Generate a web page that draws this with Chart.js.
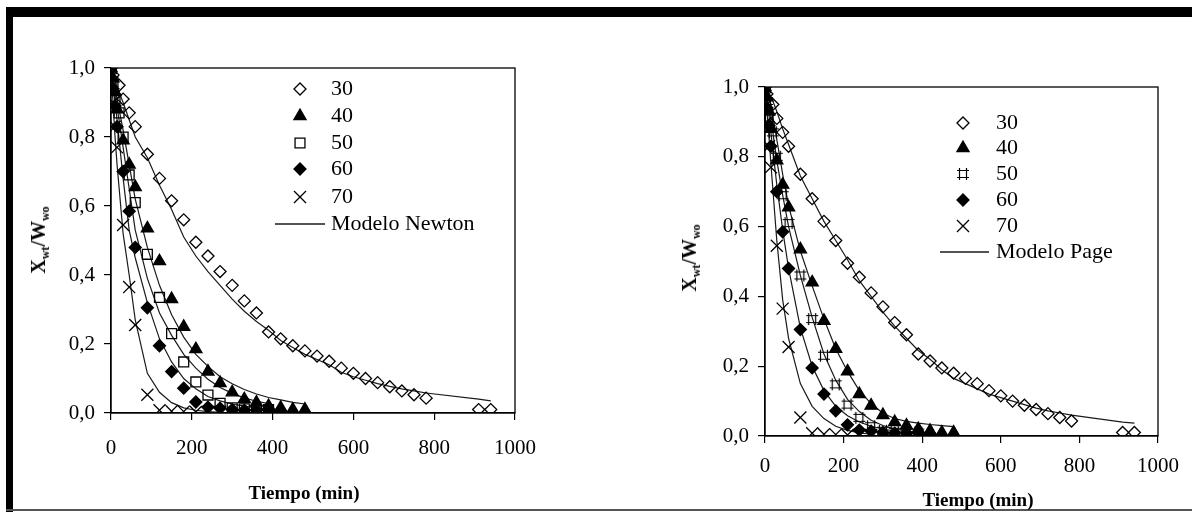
<!DOCTYPE html>
<html>
<head>
<meta charset="utf-8">
<script src="https://cdn.jsdelivr.net/npm/chart.js@4/dist/chart.umd.min.js"></script>
<style>
html, body { margin: 0; padding: 0; background: #fff; }
body { width: 1192px; height: 512px; position: relative; overflow: hidden; font-family: 'Liberation Serif', 'Times New Roman', serif; }
.bar { position: absolute; background: #000; }
canvas { position: absolute; }
.ttl { position: absolute; font-weight: bold; color: #000; white-space: nowrap; }
.ytl { transform: translate(-50%, -50%) rotate(-90deg); font-size: 20px; }
.xtl { transform: translate(-50%, -50%); font-size: 19px; }
.ytl sub { font-size: 12px; vertical-align: -4px; }
</style>
</head>
<body>
<div class="bar" style="left:6px;right:0;top:7px;height:10px"></div>
<div class="bar" style="left:6px;width:7px;top:7px;bottom:0"></div>
<div class="bar" style="left:6px;right:0;top:509px;height:2px;background:#555"></div>

<canvas id="newton" width="540" height="470" style="left:20px;top:40px"></canvas>
<canvas id="page" width="532" height="472" style="left:660px;top:40px"></canvas>

<div class="ttl ytl" style="left:40px;top:240px">X<sub>wt</sub>/W<sub>wo</sub></div>
<div class="ttl xtl" style="left:304px;top:493px">Tiempo (min)</div>
<div class="ttl ytl" style="left:691px;top:258px">X<sub>wt</sub>/W<sub>wo</sub></div>
<div class="ttl xtl" style="left:978px;top:500px">Tiempo (min)</div>

<script>
'use strict';

// tiempos de muestreo (min)
const t30 = [0, 5, 20, 30, 45, 60, 90, 120, 150, 180, 210, 240, 270, 300, 330, 360, 390, 420, 450, 480, 510, 540, 570, 600, 630, 660, 690, 720, 750, 780, 910, 940];
const t40 = [0, 5, 10, 15, 30, 45, 60, 90, 120, 150, 180, 210, 240, 270, 300, 330, 360, 390, 420, 450, 480];
const t50 = [0, 5, 10, 20, 30, 45, 60, 90, 120, 150, 180, 210, 240, 270, 300, 330, 360, 390];
const t60 = [0, 5, 10, 15, 30, 45, 60, 90, 120, 150, 180, 210, 240, 270, 300, 330, 360, 390, 420];
const t70 = [0, 5, 10, 15, 30, 45, 60, 90, 120, 150, 180, 210, 240, 270];

// datos experimentales Xwt/Wwo
const y30 = [1.0, 0.98, 0.95, 0.91, 0.87, 0.83, 0.75, 0.68, 0.615, 0.56, 0.495, 0.455, 0.41, 0.37, 0.325, 0.29, 0.235, 0.215, 0.195, 0.18, 0.165, 0.15, 0.13, 0.115, 0.1, 0.088, 0.076, 0.064, 0.053, 0.043, 0.01, 0.01];
const y40 = [1.0, 0.97, 0.93, 0.88, 0.79, 0.72, 0.655, 0.535, 0.44, 0.33, 0.25, 0.185, 0.12, 0.087, 0.06, 0.04, 0.03, 0.02, 0.015, 0.01, 0.01];
const y50 = [1.0, 0.96, 0.91, 0.87, 0.80, 0.69, 0.61, 0.46, 0.335, 0.23, 0.148, 0.09, 0.052, 0.028, 0.015, 0.012, 0.01, 0.01];
const y60 = [1.0, 0.94, 0.89, 0.83, 0.70, 0.585, 0.48, 0.305, 0.195, 0.12, 0.072, 0.032, 0.017, 0.014, 0.01, 0.008, 0.008, 0.008, 0.006];
const y70 = [1.0, 0.9, 0.83, 0.77, 0.545, 0.365, 0.255, 0.053, 0.008, 0.005, 0.004, 0.003, 0.003, 0.003];

// modelo Newton
const nw30 = [1.0, 0.98, 0.93, 0.90, 0.85, 0.80, 0.74, 0.66, 0.59, 0.51, 0.455, 0.41, 0.37, 0.33, 0.295, 0.265, 0.24, 0.21, 0.19, 0.17, 0.155, 0.14, 0.118, 0.105, 0.095, 0.085, 0.077, 0.07, 0.064, 0.058, 0.04, 0.035];
const nw40 = [1.0, 0.97, 0.94, 0.91, 0.82, 0.72, 0.62, 0.48, 0.37, 0.285, 0.22, 0.17, 0.135, 0.105, 0.085, 0.068, 0.055, 0.045, 0.038, 0.031, 0.026];
const nw50 = [1.0, 0.96, 0.92, 0.85, 0.77, 0.65, 0.53, 0.39, 0.29, 0.225, 0.17, 0.13, 0.098, 0.074, 0.057, 0.044, 0.034, 0.027];
const nw60 = [1.0, 0.95, 0.9, 0.85, 0.68, 0.53, 0.45, 0.32, 0.215, 0.148, 0.10, 0.07, 0.048, 0.035, 0.026, 0.02, 0.015, 0.012, 0.01];
const nw70 = [1.0, 0.9, 0.8, 0.72, 0.52, 0.40, 0.27, 0.115, 0.06, 0.03, 0.015, 0.008, 0.004, 0.002];

// modelo Page
const pg30 = [1.0, 0.995, 0.96, 0.93, 0.88, 0.835, 0.745, 0.68, 0.615, 0.56, 0.505, 0.445, 0.4, 0.355, 0.315, 0.28, 0.245, 0.22, 0.19, 0.165, 0.15, 0.135, 0.12, 0.11, 0.1, 0.09, 0.08, 0.072, 0.066, 0.06, 0.04, 0.037];
const pg40 = [1.0, 0.985, 0.97, 0.95, 0.85, 0.75, 0.66, 0.53, 0.43, 0.335, 0.25, 0.185, 0.13, 0.093, 0.065, 0.05, 0.042, 0.037, 0.033, 0.03, 0.027];
const pg50 = [1.0, 0.97, 0.94, 0.87, 0.79, 0.69, 0.6, 0.46, 0.34, 0.235, 0.16, 0.105, 0.07, 0.045, 0.03, 0.02, 0.014, 0.01];
const pg60 = [1.0, 0.96, 0.92, 0.87, 0.72, 0.59, 0.48, 0.31, 0.2, 0.13, 0.085, 0.058, 0.04, 0.028, 0.02, 0.014, 0.01, 0.007, 0.005];
const pg70 = [1.0, 0.93, 0.86, 0.78, 0.56, 0.39, 0.28, 0.15, 0.085, 0.05, 0.028, 0.016, 0.009, 0.005];

const labels = ['30', '40', '50', '60', '70'];
const xTicks = [0, 200, 400, 600, 800, 1000];
const yTicks = [0, 0.2, 0.4, 0.6, 0.8, 1.0];

const FONT = "'Liberation Serif', 'Times New Roman', serif";

function pts(t, v) { return t.map((x, i) => ({ x: x, y: v[i] })); }

// cuadrado con rayas ("#") que usa la segunda figura para 50
const hashMark = (() => {
  const c = document.createElement('canvas');
  c.width = 14; c.height = 14;
  const g = c.getContext('2d');
  g.strokeStyle = '#000'; g.lineWidth = 1.2;
  g.beginPath();
  g.moveTo(3.5, 1); g.lineTo(3.5, 13);
  g.moveTo(10.5, 1); g.lineTo(10.5, 13);
  g.moveTo(1, 3.5); g.lineTo(13, 3.5);
  g.moveTo(1, 10.5); g.lineTo(13, 10.5);
  g.stroke();
  return c;
})();

function markerSet(alt50) {
  return [
    { style: 'rectRot', r: 6, fill: false },
    { style: 'triangle', r: 7, fill: true },
    alt50 ? { style: hashMark, r: 6, fill: false } : { style: 'rect', r: 7, fill: false },
    { style: 'rectRot', r: 6, fill: true },
    { style: 'crossRot', r: 8.5, fill: false }
  ];
}

function buildDatasets(model, alt50) {
  const times = [t30, t40, t50, t60, t70];
  const obs = [y30, y40, y50, y60, y70];
  const mk = markerSet(alt50);
  const sets = [];
  obs.forEach((v, i) => {
    sets.push({
      label: labels[i],
      data: pts(times[i], v),
      showLine: false,
      pointStyle: mk[i].style,
      pointRadius: mk[i].r,
      pointHoverRadius: mk[i].r,
      pointBackgroundColor: mk[i].fill ? '#000' : 'rgba(0,0,0,0)',
      pointBorderColor: '#000',
      pointBorderWidth: 1.3
    });
  });
  model.forEach((v, i) => {
    sets.push({
      label: 'modelo ' + labels[i],
      data: pts(times[i], v),
      showLine: true,
      borderColor: '#1a1a1a',
      borderWidth: 1.2,
      pointRadius: 0,
      tension: 0
    });
  });
  return sets;
}

const boxLegend = {
  id: 'boxLegend',
  afterDatasetsDraw(chart, args, opts) {
    const ctx = chart.ctx;
    const mk = markerSet(opts.alt50);
    ctx.save();
    ctx.font = '22px ' + FONT;
    ctx.textBaseline = 'middle';
    ctx.textAlign = 'left';
    labels.forEach((lab, i) => {
      ctx.strokeStyle = '#000';
      ctx.fillStyle = mk[i].fill ? '#000' : 'rgba(0,0,0,0)';
      ctx.lineWidth = 1.3;
      Chart.helpers.drawPoint(ctx, { pointStyle: mk[i].style, radius: mk[i].r, borderWidth: 1.3, rotation: 0 }, opts.mx, opts.rows[i]);
      ctx.fillStyle = '#000';
      ctx.fillText(lab, opts.tx, opts.rows[i]);
    });
    ctx.strokeStyle = '#1a1a1a';
    ctx.lineWidth = 1.3;
    ctx.beginPath();
    ctx.moveTo(opts.lx0, opts.rows[5]);
    ctx.lineTo(opts.lx1, opts.rows[5]);
    ctx.stroke();
    ctx.fillText(opts.text, opts.tx, opts.rows[5]);
    ctx.restore();
  }
};

const boxFrame = {
  id: 'boxFrame',
  beforeDatasetsDraw(chart) {
    const a = chart.chartArea;
    const ctx = chart.ctx;
    ctx.save();
    ctx.strokeStyle = '#000';
    ctx.lineWidth = 1.3;
    ctx.strokeRect(a.left, a.top, a.right - a.left, a.bottom - a.top);
    ctx.restore();
  }
};

function makeChart(id, model, alt50, geo, leg) {
  return new Chart(document.getElementById(id), {
    type: 'scatter',
    data: { datasets: buildDatasets(model, alt50) },
    options: {
      responsive: false,
      animation: false,
      events: [],
      layout: { padding: geo.pad },
      plugins: {
        legend: { display: false },
        tooltip: { enabled: false },
        boxLegend: Object.assign({ alt50: alt50 }, leg)
      },
      scales: {
        x: {
          type: 'linear',
          min: 0, max: 1000,
          afterBuildTicks: s => { s.ticks = xTicks.map(v => ({ value: v })); },
          afterFit: s => { s.height = geo.xh; },
          grid: { display: true, drawOnChartArea: false, tickLength: 7, color: '#000', lineWidth: 1.2 },
          border: { display: true, color: '#000', width: 1.3 },
          ticks: { color: '#000', padding: geo.xpad, maxRotation: 0, font: { family: FONT, size: 21 },
                   callback: v => String(v) }
        },
        y: {
          type: 'linear',
          min: 0, max: 1,
          afterBuildTicks: s => { s.ticks = yTicks.map(v => ({ value: v })); },
          afterFit: s => { s.width = geo.yw; },
          grid: { display: true, drawOnChartArea: false, tickLength: 7, color: '#000', lineWidth: 1.2 },
          border: { display: true, color: '#000', width: 1.3 },
          ticks: { color: '#000', padding: 9, font: { family: FONT, size: 21 },
                   callback: v => v.toFixed(1).replace('.', ',') }
        }
      }
    },
    plugins: [boxFrame, boxLegend]
  });
}

makeChart('newton', [nw30, nw40, nw50, nw60, nw70], false,
  { pad: { left: 0, top: 28, right: 45, bottom: 0 }, xh: 97, yw: 91, xpad: 16 },
  { mx: 280, tx: 311, rows: [49, 76, 103, 129, 157, 184], lx0: 255, lx1: 305, text: 'Modelo Newton' });

makeChart('page', [pg30, pg40, pg50, pg60, pg70], true,
  { pad: { left: 0, top: 47, right: 34, bottom: 0 }, xh: 76, yw: 105, xpad: 11 },
  { mx: 303, tx: 336, rows: [83, 108, 134, 160, 186, 212], lx0: 280, lx1: 329, text: 'Modelo Page' });
</script>
</body>
</html>
